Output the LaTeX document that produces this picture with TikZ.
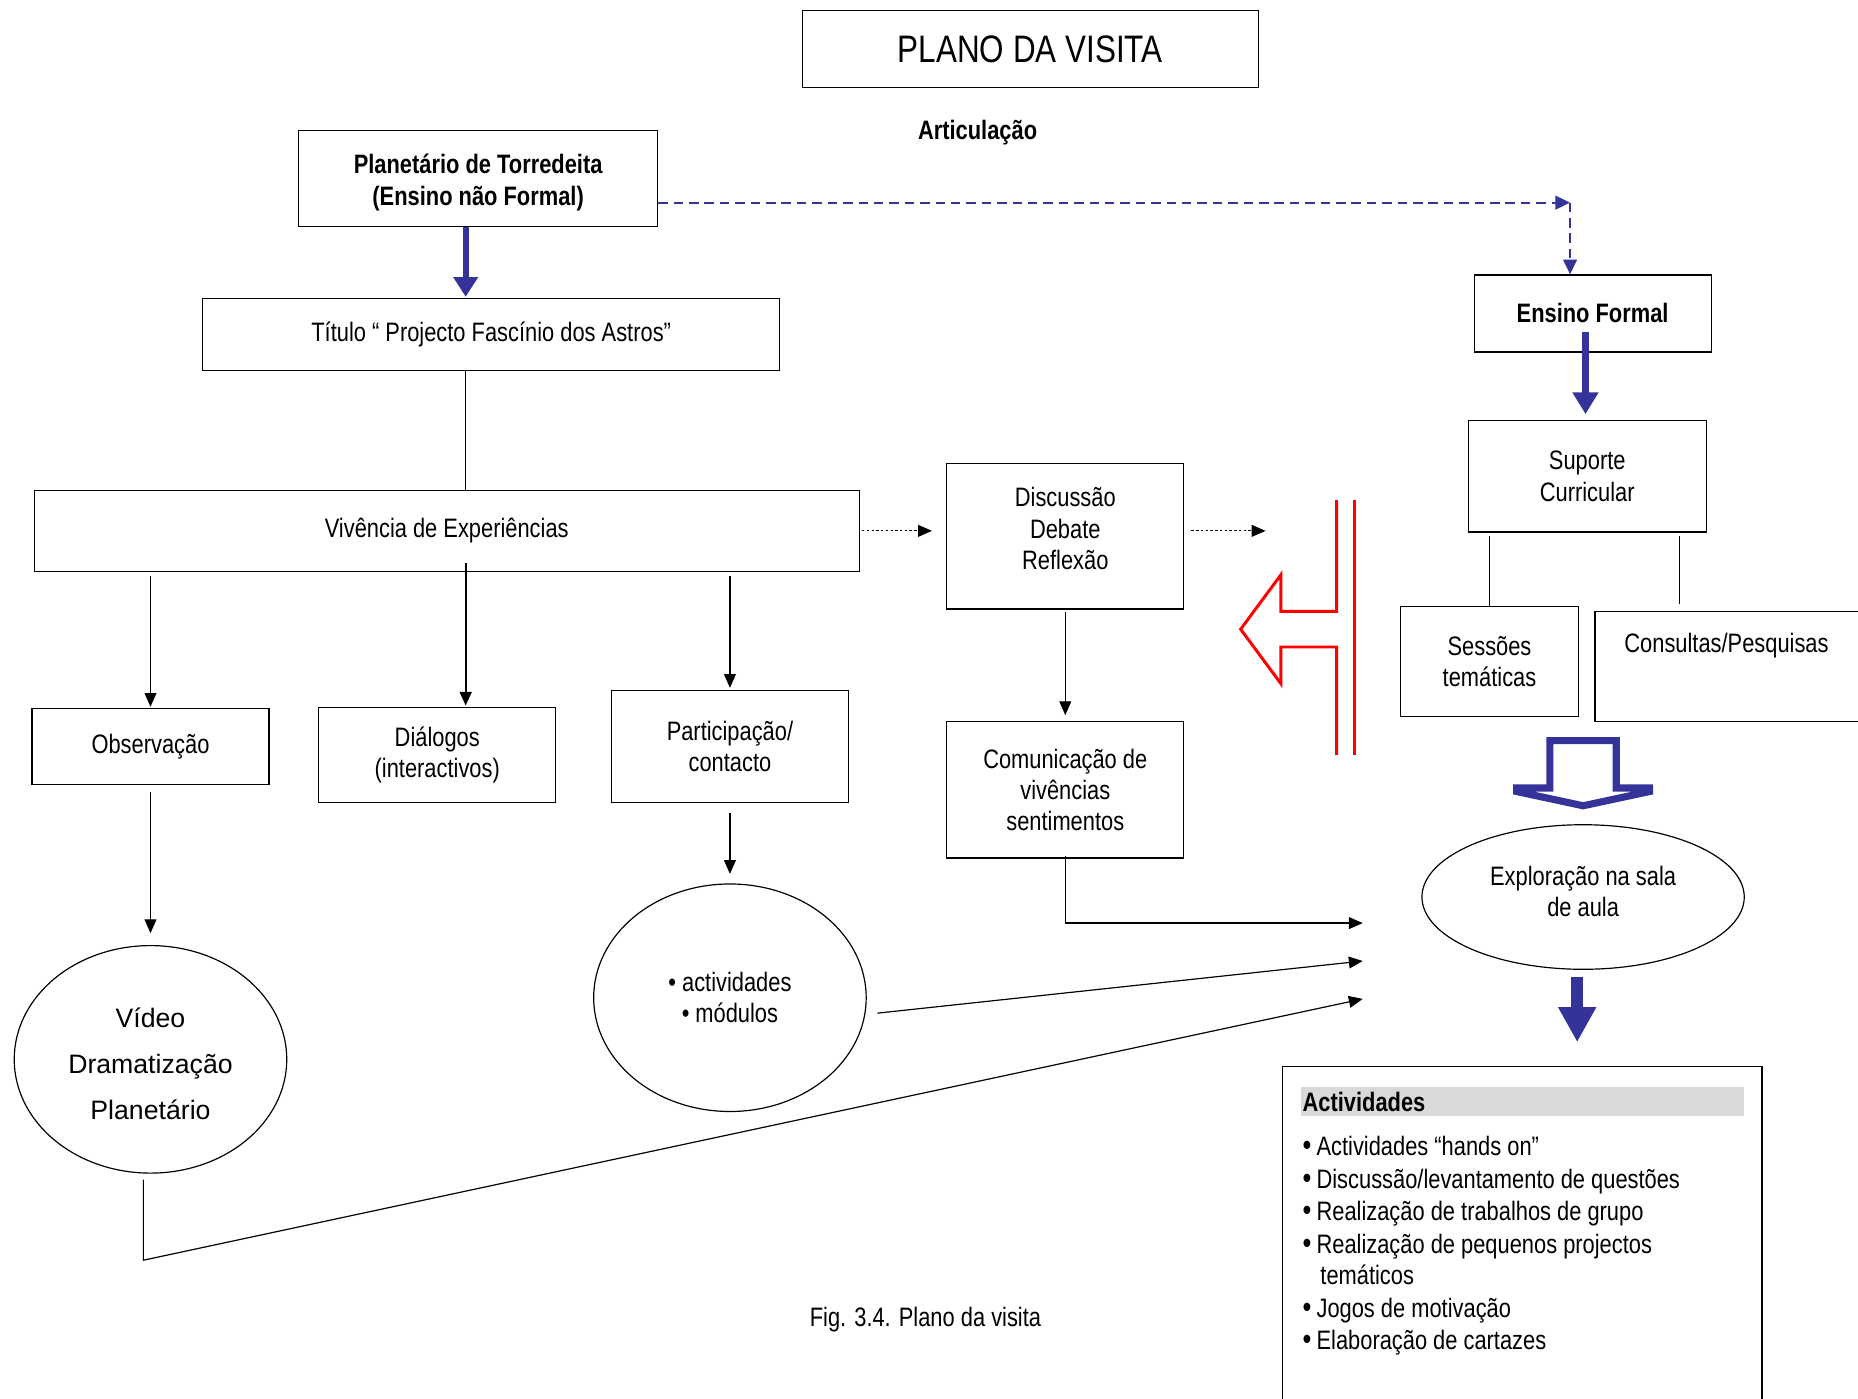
\documentclass[tikz,border=0pt]{standalone}
\usepackage{fontspec}
\setmainfont[FakeStretch=0.82]{Liberation Sans}
\newfontfamily\widesans{Liberation Sans}
\usetikzlibrary{arrows.meta,shapes.geometric,calc}

\definecolor{navy}{RGB}{51,51,153}
\definecolor{barfill}{RGB}{217,217,217}
\newcommand\dgsize{\fontsize{13.5}{15.8}\selectfont}

\begin{document}
\begin{tikzpicture}[x=0.6pt,y=-0.6pt,
  every node/.style={font=\dgsize, inner sep=0pt},
  sz/.style 2 args={minimum width=#1*0.6pt, minimum height=#2*0.6pt},
  box/.style={draw, line width=0.6pt, inner sep=0pt, align=center},
  oval/.style={draw, ellipse, line width=0.6pt, inner sep=0pt, align=center},
  conn/.style={line width=0.6pt},
  arr/.style={conn, -{Triangle[length=7pt,width=6pt]}},
  dotarr/.style={line width=0.5pt, dash pattern=on 1.2pt off 1.2pt,
                 -{Triangle[length=7pt,width=6pt]}},
  bluedash/.style={navy, line width=1pt, dash pattern=on 4.8pt off 3pt,
                   -{Triangle[length=7.5pt,width=7pt]}},
  redline/.style={red, line width=1.5pt},
]
\useasboundingbox (0,0) rectangle (1568,1180);

% column guides
\coordinate (c1) at (393,0);
\coordinate (c2) at (1338,0);
\coordinate (c3) at (1417,0);
\coordinate (c4) at (1331,0);
\coordinate (d1) at (1325,171);
\coordinate (r1) at (1068,448);
\coordinate (e1) at (1150,779);
\coordinate (e2) at (1150,811);
\coordinate (e3) at (1150,843);

% header
\node[box, sz={385}{65}, font=\fontsize{19.4}{23}\selectfont] (title) at (869.5,41.5) {PLANO DA VISITA};
\node[font=\bfseries\dgsize] (artic) at (825,112) {Articulação};

% left column
\node[box, sz={303}{81}] (plan) at (403.5,150.5) {};
\node[align=center, font=\bfseries\dgsize] (plantxt) at (403.5,154) {Planetário de Torredeita\\(Ensino não Formal)};
\node[box, sz={487}{61}] (tit) at (414.5,282.5) {Título “ Projecto Fascínio dos Astros”};
\node[box, sz={696}{68}] (viv) at (377,448) {Vivência de Experiências};
\node[box, sz={200}{64}] (obs) at (127,630) {Observação};
\node[box, sz={200}{80}] (dia) at (369,637) {Diálogos\\(interactivos)};
\node[box, sz={200}{94}] (par) at (616,630) {Participação/\\contacto};
\node[oval, sz={230}{192}] (vid) at (127,894) {};
\node[align=center, font=\widesans\fontsize{13.5}{23.4}\selectfont] (vidtxt) at (127,898)
      {Vídeo\\Dramatização\\Planetário};
\node[oval, sz={230}{192}] (act) at (616,842) {• actividades\\• módulos};

% middle column
\node[box, sz={200}{123}] (dis) at (899,452.5) {};
\node[align=center] (distxt) at (899,446) {Discussão\\Debate\\Reflexão};
\node[box, sz={200}{115}] (com) at (899,666.5) {Comunicação de\\vivências\\sentimentos};

% right column
\node[box, sz={200}{65}, font=\bfseries\dgsize] (ens) at (1344,264.5) {Ensino Formal};
\node[box, sz={201}{94}] (sup) at (1339.5,402) {Suporte\\Curricular};
\node[box, sz={150}{93}] (ses) at (1257,558.5) {Sessões\\temáticas};
\node[box, sz={244}{93}] (con) at (1468,562.5) {};
\node (contxt) at (1457,545) {Consultas/Pesquisas};
\node[oval, sz={272}{122}] (exp) at (1336,757) {};
\node[align=center] (exptxt) at (1336,752) {Exploração na sala\\de aula};
\node[box, sz={405}{295}] (actbox) at (1284.5,1047.5) {};
\fill[barfill] (1098,917) rectangle (1472,942);
\node[anchor=west, font=\bfseries\dgsize] (acthead) at (1099,930) {Actividades};
\foreach \yy/\txt [count=\i] in {
  975/{Actividades “hands on”},
  1003/{Discussão/levantamento de questões},
  1030/{Realização de trabalhos de grupo},
  1058/{Realização de pequenos projectos},
  1112/{Jogos de motivação},
  1139/{Elaboração de cartazes}}
  \node[anchor=base west] (item\i) at (1099,\yy) {{\fontsize{15.5}{15.8}\selectfont •}\hspace{2.6pt}\txt};
\node[anchor=base west] (itemcont) at (1114,1084) {temáticos};

\node (caption) at (781,1114) {Fig. 3.4. Plano da visita};

% strong blue arrows
\draw[navy, line width=2.9pt, -{Triangle[length=10pt,width=12pt]}, shorten >=0.6pt]
  (plan.south -| c1) -- (tit.north -| c1);
\draw[navy, line width=3.6pt, -{Triangle[length=11pt,width=12.5pt]}, shorten >=3pt]
  ($(ens.south -| c2)+(0,-17)$) -- (sup.north -| c2);
\draw[navy, line width=5.9pt, -{Triangle[length=17.7pt,width=18pt]},
      shorten <=3.6pt, shorten >=12pt]
  (exp.south -| c4) -- (actbox.north -| c4);

% dashed link between the two kinds of teaching
\draw[bluedash] (plan.east |- d1) -- (d1);
\draw[bluedash] (d1) -- (ens.north -| d1);

% tree below the title
\draw[conn] (tit.south -| c1) -- (viv.north -| c1);
\draw[arr, shorten <=2.4pt, shorten >=0.6pt] (viv.south -| obs.north) -- (obs.north);
\draw[line width=1.2pt, -{Triangle[length=7pt,width=6pt]}, shorten <=-4.2pt, shorten >=0.6pt]
  (viv.south -| c1) -- (dia.north -| c1);
\draw[arr, shorten <=2.4pt, shorten >=1.2pt] (viv.south -| par.north) -- (par.north);
\draw[arr, shorten <=3.6pt, shorten >=6pt] (obs.south) -- (vid.north);
\draw[arr, shorten <=5.4pt, shorten >=4.8pt] (par.south) -- (act.north);

% dotted flow to the discussion
\draw[dotarr, shorten <=1.2pt, shorten >=7.2pt] (viv.east) -- (viv.east -| dis.west);
\draw[dotarr, shorten <=3.6pt] (dis.east |- r1) -- (r1);
\draw[arr, shorten <=1.2pt, shorten >=3pt] (dis.south) -- (com.north);

% links into the classroom work
\draw[arr, shorten <=-1.2pt] (com.south) |- (e1);
\draw[arr] ($(act.east)+(9,13)$) -- (e2);
\draw[arr] ($(vid.south)+(-6,5)$) -- ++(0,68) -- (e3);

% branches of the curricular support
\draw[conn, shorten <=1.8pt] (sup.south -| ses.north) -- (ses.north);
\draw[conn, shorten <=1.8pt, shorten >=3.6pt] (sup.south -| c3) -- (con.north -| c3);

% hollow arrow towards the classroom
\draw[navy, line width=3.6pt, fill=white, line join=miter]
  (1308,625) -- (1364,625) -- (1364,665) -- (1392,665) -- (1392,668)
  -- (1336,680) -- (1280,668) -- (1280,665) -- (1308,665) -- cycle;

% red barrier with the returning arrow
\draw[redline, line join=miter]
  (1128,422) -- (1128,516) -- (1081,516) -- (1081,485) -- (1047,531)
  -- (1081,577) -- (1081,546) -- (1128,546) -- (1128,637);
\draw[redline] (1143,422) -- (1143,637);
\end{tikzpicture}
\end{document}
